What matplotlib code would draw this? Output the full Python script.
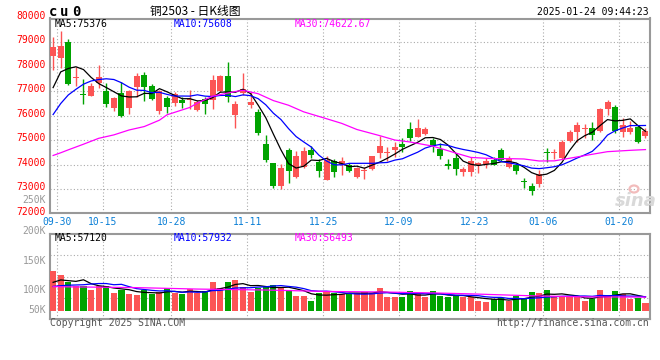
import matplotlib
matplotlib.use("Agg")
import matplotlib.pyplot as plt
from matplotlib.patches import Ellipse
import numpy as np
import pandas as pd

# ---------------- data ----------------
opens = [78456, 78347, 79027, 77530, 76900, 76824, 77354, 77014, 76334, 76946,
         76307, 77191, 77667, 77218, 76212, 76729, 76511, 76647, 76650, 76253,
         76688, 76647, 77014, 77626, 76035, 76946, 76443, 76171, 74838, 74063,
         73152, 74607, 73519, 73927, 74607, 74131, 73383, 74172, 73995, 73995,
         73519, 73737, 73818, 74498, 74498, 74621, 74866, 75464, 75151, 75246,
         75015, 74650, 74022, 74267, 73690, 73690, 74010, 74040, 74199, 74620,
         73927, 73995, 73340, 73150, 73230, 74520, 74505, 74290, 74980, 75355,
         75480, 75491, 75370, 76280, 76375, 75355, 75355, 75540, 75190]
highs = [79231, 79476, 79136, 78007, 77490, 77327, 78075, 77327, 76783, 77395,
         77042, 77762, 77776, 77286, 77042, 76810, 76960, 76783, 77042, 76647,
         76783, 77667, 77650, 78184, 76606, 77749, 76987, 76266, 75219, 74063,
         74036, 74675, 74566, 74743, 74770, 74226, 74376, 74240, 74335, 74063,
         73927, 73927, 74362, 75192, 74743, 74947, 75083, 75763, 75872, 75546,
         75083, 74880, 74240, 74500, 73927, 74335, 74131, 74267, 74335, 74702,
         74362, 74063, 73451, 73247, 73791, 74675, 74634, 75002, 75424, 75736,
         75654, 75736, 76300, 76647, 76443, 75899, 75790, 75627, 75491]
lows = [77871, 77939, 77259, 77218, 76470, 76810, 77150, 76375, 76198, 75967,
        76062, 76756, 76620, 76661, 76076, 76130, 76416, 76334, 76280, 76210,
        76076, 76280, 76990, 76552, 75518, 76851, 76334, 75219, 74131, 73070,
        73016, 73274, 73478, 73859, 74267, 73519, 73383, 73492, 73587, 73723,
        73451, 73424, 73800, 74294, 74172, 74335, 74539, 74974, 75120, 75219,
        74512, 74250, 73832, 73587, 73546, 73546, 73682, 73886, 73995, 74172,
        73886, 73628, 73043, 72771, 73111, 74131, 74240, 74240, 74947, 74947,
        75110, 75015, 75355, 76035, 75287, 75151, 75246, 74879, 75110]
closes = [78823, 78850, 77300, 77600, 76860, 77232, 77586, 76484, 76742, 76008,
          77014, 77626, 77191, 76688, 77014, 76375, 76892, 76511, 76700, 76552,
          76470, 77463, 77626, 76756, 76484, 77082, 76566, 75287, 74199, 73138,
          73859, 73764, 74376, 74566, 74403, 73764, 74199, 73723, 74172, 73764,
          73859, 73778, 74362, 74784, 74539, 74730, 74743, 75083, 75491, 75464,
          74784, 74340, 73941, 73845, 73830, 74150, 74090, 74170, 74010, 74180,
          74240, 73764, 73300, 72920, 73612, 74500, 74515, 74945, 75330, 75627,
          75518, 75219, 76280, 76578, 75360, 75627, 75518, 74930, 75385]
volumes_k = [166, 148, 121, 104, 104, 86, 104, 103, 75, 86,
             69, 65, 86, 69, 79, 93, 75, 69, 90, 72,
             83, 121, 93, 121, 128, 100, 79, 96, 100, 107,
             100, 86, 62, 62, 42, 75, 82, 72, 69, 69,
             75, 79, 75, 94, 58, 58, 58, 82, 69, 58,
             82, 61, 56, 61, 56, 56, 42, 37, 47, 54,
             40, 61, 47, 78, 74, 86, 56, 56, 56, 56,
             42, 47, 86, 65, 82, 69, 49, 52, 33]

# moving-average values read off the chart where no full window is visible
ma5_head = [77150, 77790, 77930, 78000]
ma10_head = [76050, 76500, 76850, 77080, 77290, 77420, 77480, 77510, 77480]
ma30_idx = [0, 1, 2, 4, 6, 8, 10, 12, 14, 15, 18, 19, 21, 24, 25, 27, 29, 31, 33,
            36, 38, 40, 43, 45, 47, 50, 53, 55, 58, 60, 62, 64, 66, 69, 71, 73, 76, 78]
ma30_val = [74380, 74490, 74610, 74840, 75080, 75220, 75420, 75560, 75820, 76040,
            76340, 76520, 76800, 76990, 77040, 76900, 76620, 76430, 76160, 75880,
            75690, 75440, 75190, 75010, 74930, 74760, 74480, 74300, 74250, 74250,
            74237, 74155, 74160, 74320, 74430, 74535, 74590, 74620]
vma5_head = [118, 128, 125, 122]
vma10_head = [101, 104, 106, 107, 108, 111, 113, 113, 108]
vma30_idx = [0, 11, 19, 28, 36, 43, 50, 55, 63, 69, 78]
vma30_val = [100, 96, 90, 86, 80, 78, 74, 70, 62, 58, 56.5]

tick_idx = [1, 7, 16, 26, 36, 46, 56, 65, 75]
tick_labels = ["09-30", "10-15", "10-28", "11-11", "11-25", "12-09", "12-23", "01-06", "01-20"]
price_ticks = [72000, 73000, 74000, 75000, 76000, 77000, 78000, 79000, 80000]

# ---------------- styling ----------------
RED = "#fc5454"
GREEN = "#00a300"
GRID = "#aaaaaa"
BORDER = "#999999"
MONO = "DejaVu Sans Mono"
BLUE_LBL = "#0a7fd6"
W, H = 660.0, 360.0

fig = plt.figure(figsize=(6.6, 3.6), dpi=100)


def px_axes(l, t, r, b):
    return fig.add_axes([l / W, 1 - b / H, (r - l) / W, (b - t) / H])


ax = px_axes(50, 18.5, 649.5, 213.3)
axv = px_axes(50, 234.3, 649.5, 318.7)

o = np.array(opens, float)
c = np.array(closes, float)
hi = np.array(highs, float)
lo = np.array(lows, float)
vol = np.array(volumes_k, float) * 1000
n = len(c)
x = np.arange(n)
colors = np.where(c >= o, RED, GREEN)

for a in (ax, axv):
    a.set_xlim(-0.41, 78.53)
    a.set_xticks([])
    a.set_yticks([])
    for s in a.spines.values():
        s.set_color(BORDER)
        s.set_linewidth(1.5)
    for t in tick_idx:
        a.axvline(t - 0.45, color=GRID, lw=0.8, ls=(0, (1, 2)), zorder=1)

ax.set_ylim(72020, 79970)
for v in price_ticks[1:-1]:
    ax.axhline(v, color=GRID, lw=0.8, ls=(0, (1, 2)), zorder=1)

# faint sina watermark (behind the data)
fig.patches.append(Ellipse((634 / W, 1 - 189 / H), 9 / W, 7 / H, transform=fig.transFigure,
                           facecolor="none", edgecolor="#f2bcbc", lw=1.6, zorder=0))
fig.text(636 / W, 1 - 201 / H, "sina", ha="center", va="center", fontsize=13,
         color="#d9d9d9", style="italic", weight="bold", family="DejaVu Sans", zorder=0)

# candles
ax.vlines(x, lo, hi, colors=colors, lw=1.0, zorder=3)
body_h = np.maximum(np.abs(c - o), 40)
ax.bar(x, body_h, bottom=(o + c) / 2 - body_h / 2, width=0.79, color=colors,
       lw=0, zorder=4)

# price moving averages
ma5 = pd.Series(c).rolling(5).mean().to_numpy()
ma5[:4] = ma5_head
ma10 = pd.Series(c).rolling(10).mean().to_numpy()
ma10[:9] = ma10_head
ax.plot(x, ma5, color="black", lw=0.9, zorder=5)
ax.plot(x, ma10, color="#0000ff", lw=0.9, zorder=5)
ax.plot(ma30_idx, ma30_val, color="#ff00ff", lw=0.9, zorder=5)

# volume
k = 4160.0
axv.set_ylim(-(318.7 - 310.7) * k, (310.7 - 234.3) * k)
lo_v, hi_v = axv.get_ylim()
for f in (0.25, 0.5, 0.75):
    axv.axhline(lo_v + f * (hi_v - lo_v), color=GRID, lw=0.8, ls=(0, (1, 2)), zorder=1)
axv.bar(x, vol, width=0.8, color=colors, lw=0, zorder=3)
vma5 = pd.Series(vol).rolling(5).mean().to_numpy()
vma5[:4] = np.array(vma5_head) * 1000
vma10 = pd.Series(vol).rolling(10).mean().to_numpy()
vma10[:9] = np.array(vma10_head) * 1000
axv.plot(x, vma5, color="black", lw=0.9, zorder=5)
axv.plot(x, vma10, color="#0000ff", lw=0.9, zorder=5)
axv.plot(vma30_idx, np.array(vma30_val) * 1000, color="#ff00ff", lw=0.9, zorder=5)

# price labels (left, red, slightly above their gridline)
ytr = ax.get_yaxis_transform()
for v in price_ticks:
    ax.text(-0.0068, v + 80, f"{v}", transform=ytr, ha="right", va="center",
            color="red", fontsize=7, family=MONO, clip_on=False)

# date labels between panels
xtr = ax.get_xaxis_transform()
for t, lab in zip(tick_idx, tick_labels):
    ax.text(t - 0.45, -0.043, lab, transform=xtr, ha="center", va="center",
            color=BLUE_LBL, fontsize=7, family=MONO, clip_on=False)


def ftext(px, py, s, **kw):
    kw.setdefault("fontsize", 7)
    kw.setdefault("family", MONO)
    fig.text(px / W, 1 - py / H, s, **kw)


# header
for ch, cx in zip("cu0", (53, 64.3, 76.3)):
    ftext(cx, 12, ch, ha="center", va="center", fontsize=10, weight="bold")
ftext(195, 11.5, "铜2503 - 日K线图", ha="center", va="center", fontsize=8.5,
      family=["Noto Sans CJK SC", "DejaVu Sans"])
ftext(648.5, 11.7, "2025-01-24 09:44:23", ha="right", va="center")

# MA legends
ftext(55, 23.7, "MA5:75376", ha="left", va="center", color="black")
ftext(174, 23.7, "MA10:75608", ha="left", va="center", color="#0000ff")
ftext(295, 23.7, "MA30:74622.67", ha="left", va="center", color="#ff00ff")
ftext(55, 238.3, "MA5:57120", ha="left", va="center", color="black")
ftext(174, 238.3, "MA10:57932", ha="left", va="center", color="#0000ff")
ftext(295, 238.3, "MA30:56493", ha="left", va="center", color="#ff00ff")

# volume axis labels
for lab, py in (("250K", 200.3), ("200K", 231), ("150K", 261), ("100K", 289.7), ("50K", 310)):
    ftext(46, py, lab, ha="right", va="center", color="#999999")

# footer
ftext(50, 323.5, "Copyright 2025 SINA.COM", ha="left", va="center", color="#555555")
ftext(649, 323.5, "http://finance.sina.com.cn", ha="right", va="center", color="#555555")

fig.savefig("out.png", dpi=100)
